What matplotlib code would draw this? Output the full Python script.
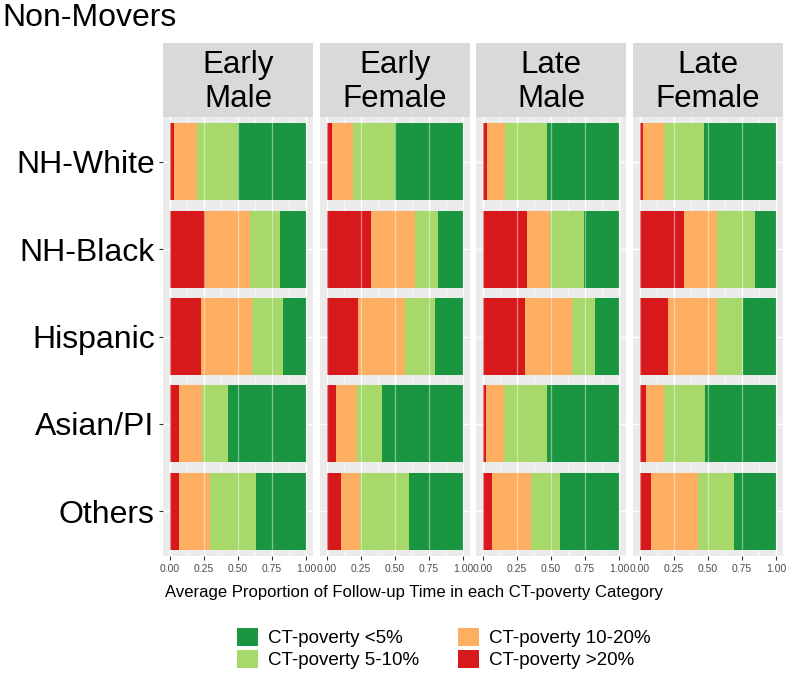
import numpy as np
import matplotlib
matplotlib.use("Agg")
import matplotlib.pyplot as plt
from matplotlib.patches import Patch

plt.rcParams['font.family'] = ['Liberation Sans', 'DejaVu Sans']

# ---- data -------------------------------------------------------------
groups = ["NH-White", "NH-Black", "Hispanic", "Asian/PI", "Others"]
panels = ["Early\nMale", "Early\nFemale", "Late\nMale", "Late\nFemale"]
bins = ["CT-poverty >20%", "CT-poverty 10-20%", "CT-poverty 5-10%", "CT-poverty <5%"]
colors = ["#D7191C", "#FDAE61", "#A6D96A", "#1A9641"]

# one row per panel, values per group (NH-White .. Others)
pov_gt20 = [[0.030, 0.260, 0.230, 0.067, 0.067],
            [0.037, 0.325, 0.227, 0.067, 0.106],
            [0.030, 0.324, 0.310, 0.025, 0.069],
            [0.022, 0.324, 0.206, 0.047, 0.084]]
pov_10_20 = [[0.170, 0.330, 0.370, 0.167, 0.226],
             [0.153, 0.318, 0.347, 0.152, 0.138],
             [0.135, 0.172, 0.341, 0.127, 0.285],
             [0.155, 0.239, 0.357, 0.130, 0.339]]
pov_5_10 = [[0.300, 0.220, 0.230, 0.192, 0.337],
            [0.310, 0.170, 0.222, 0.187, 0.359],
            [0.309, 0.249, 0.175, 0.322, 0.211],
            [0.297, 0.280, 0.194, 0.302, 0.270]]
pov_lt5 = [[0.500, 0.190, 0.170, 0.574, 0.370],
           [0.500, 0.187, 0.204, 0.594, 0.397],
           [0.526, 0.255, 0.174, 0.526, 0.435],
           [0.526, 0.157, 0.243, 0.521, 0.307]]

xticks = [0, 0.25, 0.5, 0.75, 1.0]
xticklabels = ["0.00", "0.25", "0.50", "0.75", "1.00"]

# ---- layout -------------------------------------------------------------
W, H = 790, 677
fig = plt.figure(figsize=(W / 100, H / 100), dpi=100)

def fx(px):
    return px / W

def fy(px):
    return 1 - px / H

panel_left = [163, 320, 476, 633]
panel_w = 150
panel_top, panel_bot = 117, 556
strip_top = 43

y = np.arange(len(groups))
for p in range(len(panels)):
    ax = fig.add_axes([fx(panel_left[p]), fy(panel_bot), fx(panel_w), (panel_bot - panel_top) / H])
    ax.set_facecolor("#EBEBEB")
    left = np.zeros(len(groups))
    for vals, col in zip([pov_gt20[p], pov_10_20[p], pov_5_10[p], pov_lt5[p]], colors):
        vals = np.array(vals)
        ax.barh(y, vals, left=left, height=0.88, color=col, zorder=2)
        left += vals
    # grid
    for xv in np.arange(0, 1.01, 0.25):
        ax.axvline(xv, color="white", lw=1.0, zorder=1)
        ax.axvline(xv, color="white", lw=0.9, alpha=0.45, zorder=3)
    for xv in np.arange(0.125, 1.0, 0.25):
        ax.axvline(xv, color="white", lw=0.5, zorder=1)
    for yv in y:
        ax.axhline(yv, color="white", lw=1.0, zorder=1)
    ax.set_xlim(-0.05, 1.05)
    ax.set_ylim(len(groups) - 1 + 0.51, -0.51)
    for s in ax.spines.values():
        s.set_visible(False)
    ax.set_xticks(xticks)
    ax.set_xticklabels(xticklabels, fontsize=7.5, color="#4D4D4D")
    ax.tick_params(axis="x", length=3, width=0.8, color="#333333", pad=3)
    ax.set_yticks(y)
    if p == 0:
        ax.set_yticklabels(groups, fontsize=23, color="black")
        ax.tick_params(axis="y", length=3, width=0.8, color="#333333", pad=3)
    else:
        ax.set_yticklabels([])
        ax.tick_params(axis="y", length=0)

    # facet strip
    sax = fig.add_axes([fx(panel_left[p]), fy(panel_top), fx(panel_w), (panel_top - strip_top) / H])
    sax.set_facecolor("#D9D9D9")
    sax.set_xticks([])
    sax.set_yticks([])
    for s in sax.spines.values():
        s.set_visible(False)
    sax.text(0.5, 0.47, panels[p], ha="center", va="center", fontsize=22.5,
             linespacing=1.15, transform=sax.transAxes)

fig.text(fx(2), fy(3), "Non-Movers", ha="left", va="top", fontsize=23)
fig.text(fx(414), fy(592), "Average Proportion of Follow-up Time in each CT-poverty Category",
         ha="center", va="center", fontsize=12)

# legend: <5%, 5-10% in first column, 10-20%, >20% in second
order = [3, 2, 1, 0]
handles = [Patch(facecolor=colors[i], edgecolor="none") for i in order]
labels = [bins[i] for i in order]
fig.legend(handles, labels, ncol=2, loc="upper left", bbox_to_anchor=(fx(237), fy(628)),
           frameon=False, fontsize=13.5, borderpad=0, handlelength=1.12, handleheight=1.12,
           handletextpad=0.53, columnspacing=2.1, labelspacing=0.12, borderaxespad=0)

fig.savefig("out.png", dpi=100)
